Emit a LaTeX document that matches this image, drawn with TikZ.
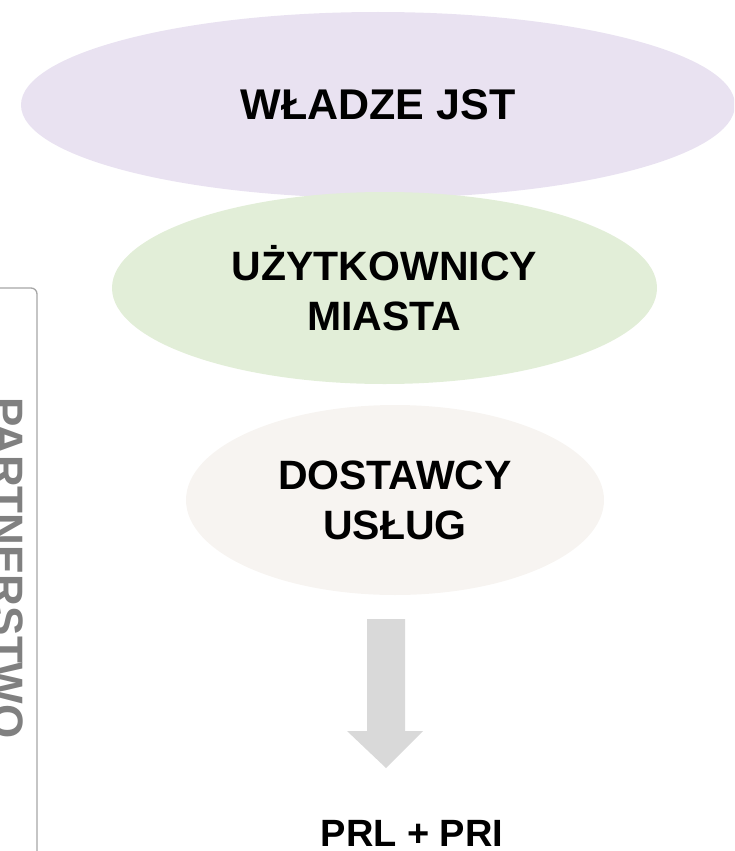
\documentclass[tikz,border=0pt]{standalone}
\usepackage{fontspec}
\setmainfont{Liberation Sans}
\usetikzlibrary{shapes.geometric}
\definecolor{jstfill}{HTML}{E9E2F1}
\definecolor{userfill}{HTML}{E2EED8}
\definecolor{supplyfill}{HTML}{F7F4F1}
\definecolor{framegray}{HTML}{A6A6A6}
\definecolor{labelgray}{HTML}{808080}
\definecolor{arrowgray}{HTML}{D9D9D9}
\tikzset{
  oval/.style={ellipse, inner sep=0pt, draw=none, align=center,
    font=\fontsize{41}{50}\selectfont\bfseries},
}
\begin{document}
\begin{tikzpicture}[x=1pt,y=-1pt]
  \useasboundingbox (0,0) rectangle (734,851);
  \clip (0,0) rectangle (734,851);

  % stakeholder ovals
  \node[oval, fill=jstfill, minimum width=714pt, minimum height=186pt,
    font=\fontsize{43}{50}\selectfont\bfseries] (jst) at (378,105) {WŁADZE JST};
  \node[oval, fill=userfill, minimum width=545pt, minimum height=192pt] (users) at (384.5,288) {UŻYTKOWNICY\\MIASTA};
  \node[oval, fill=supplyfill, minimum width=418pt, minimum height=190pt] (supply) at (395,500) {DOSTAWCY\\USŁUG};

  % block arrow towards the result
  \fill[arrowgray] (367,619) -- (405,619) -- (405,731) -- (423,731) -- (386,768)
    -- (347,731) -- (367,731) -- cycle;

  % result
  \node[anchor=base, inner sep=0pt, font=\fontsize{38}{46}\selectfont\bfseries] (result) at (412,846) {PRL + PRI};

  % partnership frame and label
  \draw[framegray, line width=1.3pt] (-5,288) -- (31,288) arc[start angle=-90, end angle=0, radius=6] -- (37,860);
  \node[anchor=base, rotate=-90, inner sep=0pt, text=labelgray,
    font=\fontsize{44}{50}\selectfont\bfseries] (partner) at (-8,568) {PARTNERSTWO};
\end{tikzpicture}
\end{document}
